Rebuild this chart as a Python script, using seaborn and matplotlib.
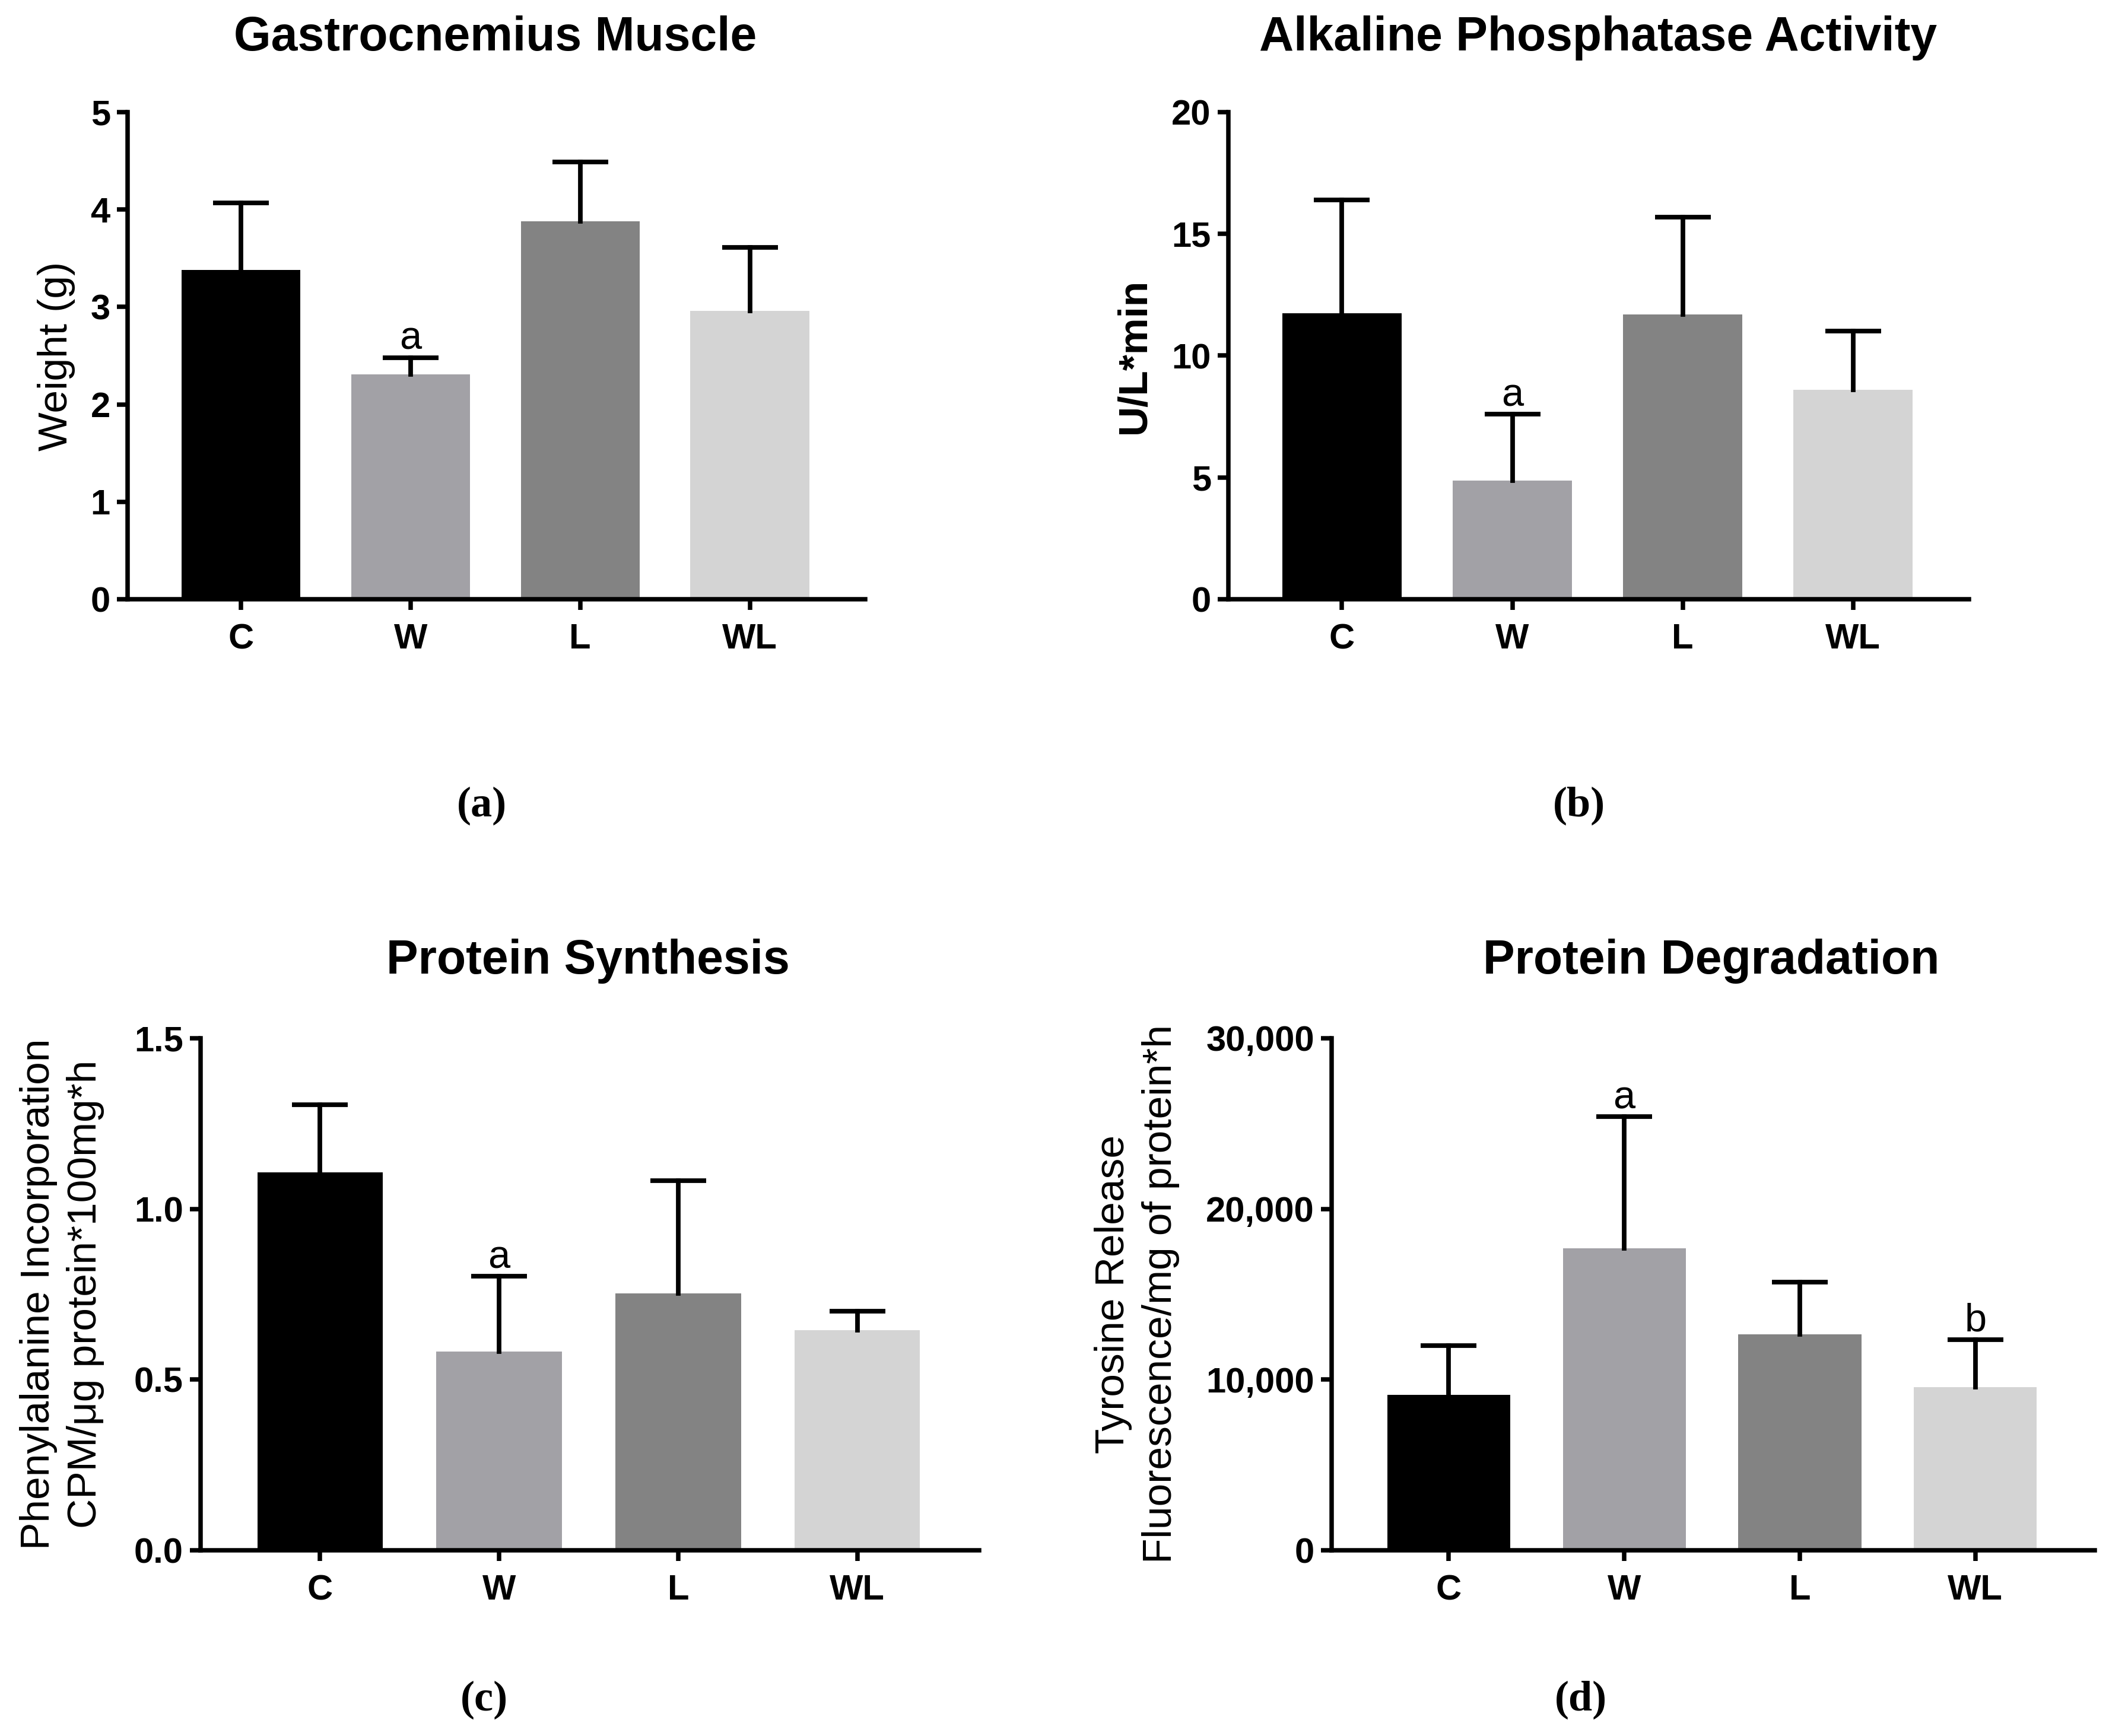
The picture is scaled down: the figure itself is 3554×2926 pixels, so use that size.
import numpy as np
import pandas as pd
import matplotlib
matplotlib.use('Agg')
import matplotlib.pyplot as plt
from matplotlib.ticker import FuncFormatter, MultipleLocator
import seaborn as sns

# groups and bar colours
groups = ['C', 'W', 'L', 'WL']
bar_colors = ['#000000', '#a2a1a6', '#838383', '#d4d4d4']

# (a) gastrocnemius weight, mean and top of error bar
gastro_mean = [3.38, 2.31, 3.88, 2.96]
gastro_upper = [4.07, 2.48, 4.49, 3.61]
gastro_letters = ['', 'a', '', '']

# (b) alkaline phosphatase
alp_mean = [11.75, 4.87, 11.7, 8.6]
alp_upper = [16.4, 7.6, 15.7, 11.0]
alp_letters = ['', 'a', '', '']

# (c) protein synthesis
synth_mean = [1.108, 0.583, 0.753, 0.645]
synth_upper = [1.306, 0.803, 1.082, 0.701]
synth_letters = ['', 'a', '', '']

# (d) protein degradation
degr_mean = [9100, 17700, 12650, 9570]
degr_upper = [12000, 25400, 15700, 12350]
degr_letters = ['', 'a', '', 'b']

sns.set_style('ticks')
plt.rcParams['font.family'] = ['Liberation Sans', 'DejaVu Sans']
plt.rcParams['axes.linewidth'] = 2.7
for key in ['text.color', 'axes.labelcolor', 'axes.edgecolor', 'xtick.color', 'ytick.color']:
    plt.rcParams[key] = 'black'

LW = 2.8


def draw_panel(ax, mean, upper, letters, ymax, step, fmt):
    df = pd.DataFrame({'group': groups, 'value': mean})
    sns.barplot(data=df, x='group', y='value', hue='group', palette=bar_colors,
                width=0.7, saturation=1, edgecolor='none', legend=False, ax=ax)
    err = np.array(upper) - np.array(mean)
    eb = ax.errorbar(np.arange(len(groups)), mean, yerr=[np.zeros(len(err)), err],
                     fmt='none', ecolor='black', elinewidth=LW, capsize=17,
                     capthick=LW, zorder=3)
    # only the upper cap is wanted
    for cap in eb.lines[1]:
        if np.allclose(cap.get_ydata(), mean):
            cap.set_visible(False)
    for col in eb.lines[2]:
        col.set_capstyle('projecting')
    for i, lab in enumerate(letters):
        if lab:
            ax.annotate(lab, (i, upper[i]), xytext=(0, 5), textcoords='offset points',
                        ha='center', va='baseline', fontsize=24)
    ax.set_xlim(-0.667, 3.68)
    ax.set_ylim(0, ymax)
    ax.yaxis.set_major_locator(MultipleLocator(step))
    ax.yaxis.set_major_formatter(FuncFormatter(fmt))
    ax.set_xlabel('')
    ax.set_ylabel('')
    sns.despine(ax=ax)
    ax.tick_params(axis='both', width=2.7, length=6.5, direction='out', labelsize=21.5)
    ax.tick_params(axis='y', pad=4)
    ax.tick_params(axis='x', pad=8)
    for lbl in ax.get_xticklabels() + ax.get_yticklabels():
        lbl.set_fontweight('bold')


fig = plt.figure(figsize=(17.77, 14.63), dpi=200)
W, H = 3554.0, 2926.0

ax_a = fig.add_axes([215 / W, 1 - 1010 / H, 1243 / W, 821 / H])
ax_b = fig.add_axes([2070 / W, 1 - 1010 / H, 1248 / W, 821 / H])
ax_c = fig.add_axes([338 / W, 1 - 2613 / H, 1312 / W, 863 / H])
ax_d = fig.add_axes([2244 / W, 1 - 2613 / H, 1286 / W, 863 / H])

draw_panel(ax_a, gastro_mean, gastro_upper, gastro_letters, 5, 1, lambda v, p: f'{v:.0f}')
draw_panel(ax_b, alp_mean, alp_upper, alp_letters, 20, 5, lambda v, p: f'{v:.0f}')
draw_panel(ax_c, synth_mean, synth_upper, synth_letters, 1.5, 0.5, lambda v, p: f'{v:.1f}')
draw_panel(ax_d, degr_mean, degr_upper, degr_letters, 30000, 10000, lambda v, p: f'{v:,.0f}')

# titles (placed on their baselines)
fig.text(835 / W, 1 - 85 / H, 'Gastrocnemius Muscle', ha='center', va='baseline',
         fontsize=29, fontweight='bold')
fig.text(2693 / W, 1 - 85 / H, 'Alkaline Phosphatase Activity', ha='center', va='baseline',
         fontsize=29, fontweight='bold')
fig.text(991 / W, 1 - 1641 / H, 'Protein Synthesis', ha='center', va='baseline',
         fontsize=29, fontweight='bold')
fig.text(2884 / W, 1 - 1641 / H, 'Protein Degradation', ha='center', va='baseline',
         fontsize=29, fontweight='bold')

# y labels
fig.text(95 / W, 1 - 600 / H, 'Weight (g)', rotation=90, ha='center', va='center',
         fontsize=25)
fig.text(1912 / W, 1 - 600 / H, 'U/L*min', rotation=90, ha='center', va='center',
         fontsize=25, fontweight='bold')
fig.text(105 / W, 1 - 2181 / H, 'Phenylalanine Incorporation\nCPM/\u03bcg protein*100mg*h',
         rotation=90, ha='center', va='center', multialignment='center',
         fontsize=25, linespacing=1.3)
fig.text(1916 / W, 1 - 2181 / H, 'Tyrosine Release\nFluorescence/mg of protein*h',
         rotation=90, ha='center', va='center', multialignment='center',
         fontsize=25, linespacing=1.3)

# panel letters
for x, y, lab in [(812, 1358, '(a)'), (2661, 1358, '(b)'), (816, 2865, '(c)'), (2664, 2865, '(d)')]:
    fig.text(x / W, 1 - y / H, lab, ha='center', va='center', fontsize=26,
             fontweight='bold', family=['Liberation Serif', 'DejaVu Serif'])

fig.savefig('out.png', dpi=200)
